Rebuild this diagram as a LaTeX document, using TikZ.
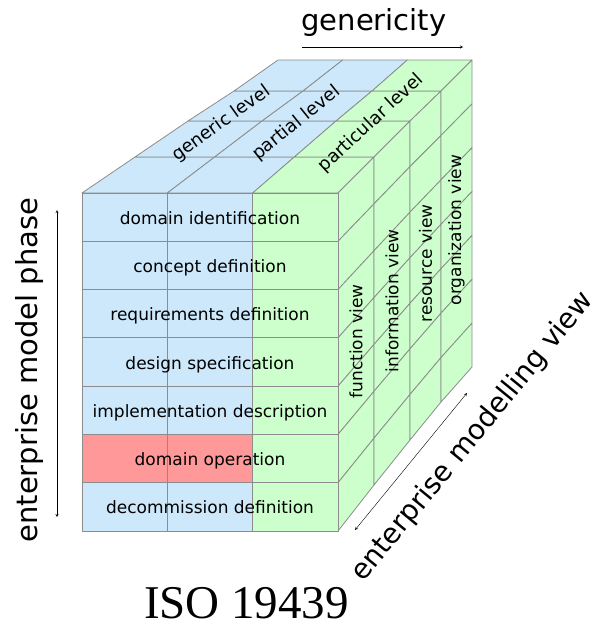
\documentclass[tikz,border=0pt]{standalone}
\usepackage{fontspec}
\setmainfont{DejaVu Sans}
\newfontfamily\isofont{Liberation Serif}
\usetikzlibrary{arrows,calc}
\definecolor{cubeblue}{RGB}{204,232,250}
\definecolor{cubegreen}{RGB}{204,255,204}
\definecolor{cubered}{RGB}{255,153,153}
\definecolor{gridgray}{RGB}{140,140,140}
\tikzset{
  cell/.style={draw=gridgray, line width=0.8pt, line join=round},
  celltext/.style={font=\fontsize{17}{20}\selectfont, inner sep=0pt},
  axistext/.style={font=\fontsize{29}{34}\selectfont, inner sep=0pt},
}
\begin{document}
\begin{tikzpicture}[x=1pt, y=-1pt, >=stealth]
  \useasboundingbox (0,0) rectangle (594,624);

  % corners of each depth layer
  \foreach \k/\l/\r/\t/\b in {0/82/338/193/531, 1/135/374/157/485, 2/188/410/121/440, 3/234/441/91/402, 4/278/472/60/367} {
    \coordinate (tl\k) at (\l,\t);
    \coordinate (tr\k) at (\r,\t);
    \coordinate (br\k) at (\r,\b);
  }

  % top face
  \foreach \k [evaluate=\k as \n using int(\k+1)] in {0,...,3} {
    \foreach \c [evaluate=\c as \d using int(\c+1)] in {0,1,2} {
      \ifnum\c<2 \def\cellcol{cubeblue}\else \def\cellcol{cubegreen}\fi
      \filldraw[cell, fill=\cellcol] ($(tl\k)!\c/3!(tr\k)$) -- ($(tl\k)!\d/3!(tr\k)$)
        -- ($(tl\n)!\d/3!(tr\n)$) -- ($(tl\n)!\c/3!(tr\n)$) -- cycle;
    }
  }

  % right face
  \foreach \k [evaluate=\k as \n using int(\k+1)] in {0,...,3} {
    \foreach \j [evaluate=\j as \i using int(\j+1)] in {0,...,6} {
      \filldraw[cell, fill=cubegreen] ($(tr\k)!\j/7!(br\k)$) -- ($(tr\k)!\i/7!(br\k)$)
        -- ($(tr\n)!\i/7!(br\n)$) -- ($(tr\n)!\j/7!(br\n)$) -- cycle;
    }
  }

  % front face
  \foreach \j in {0,...,6} {
    \foreach \c in {0,1,2} {
      \ifnum\c=2 \def\cellcol{cubegreen}\else
        \ifnum\j=5 \def\cellcol{cubered}\else \def\cellcol{cubeblue}\fi
      \fi
      \filldraw[cell, fill=\cellcol] ({82+256*\c/3}, {193+338*\j/7}) rectangle +(85.33, 48.29);
    }
  }

  \foreach \j/\txt in {0/domain identification, 1/concept definition, 2/requirements definition,
      3/design specification, 4/implementation description, 5/domain operation, 6/decommission definition} {
    \node[celltext, anchor=base] (phase\j) at (210, {193+338*(\j+0.5)/7+7}) {\txt};
  }

  \foreach \c/\txt [evaluate=\c as \f using (2*\c+1)/6] in {0/generic level, 1/partial level, 2/particular level} {
    \path ($(tl0)!\f!(tr0)$) -- ($(tl4)!\f!(tr4)$)
      node[celltext, font=\fontsize{18}{20}\selectfont, pos=0.5, sloped, xshift=5pt] (level\c) {\txt};
  }

  \foreach \k/\txt [evaluate=\k as \n using int(\k+1)] in {0/function view, 1/information view, 2/resource view, 3/organization view} {
    \path ($(tr\k)!0.5!(br\k)$) -- ($(tr\n)!0.5!(br\n)$) node[celltext, midway, rotate=90] (view\k) {\txt};
  }

  % axes
  \node[axistext, anchor=base] (generic) at (374,30) {genericity};
  \coordinate (genL) at (302,47);
  \coordinate (genR) at (463,47);
  \draw[->] (genL) -- (genR);

  \node[axistext, anchor=base, rotate=90] (phase) at (37,370) {enterprise model phase};
  \coordinate (phaseT) at (57,210);
  \coordinate (phaseB) at (57,517);
  \draw[<->] (phaseT) -- (phaseB);

  \node[axistext, font=\fontsize{28}{32}\selectfont, rotate=50.7] (views) at (473,437) {enterprise modelling view};
  \coordinate (viewL) at (355,530);
  \coordinate (viewR) at (467,393);
  \draw[<->] (viewL) -- (viewR);

  \node[font=\isofont\fontsize{47}{50}\selectfont, anchor=base] (iso) at (246.5,618) {ISO 19439};
\end{tikzpicture}
\end{document}
